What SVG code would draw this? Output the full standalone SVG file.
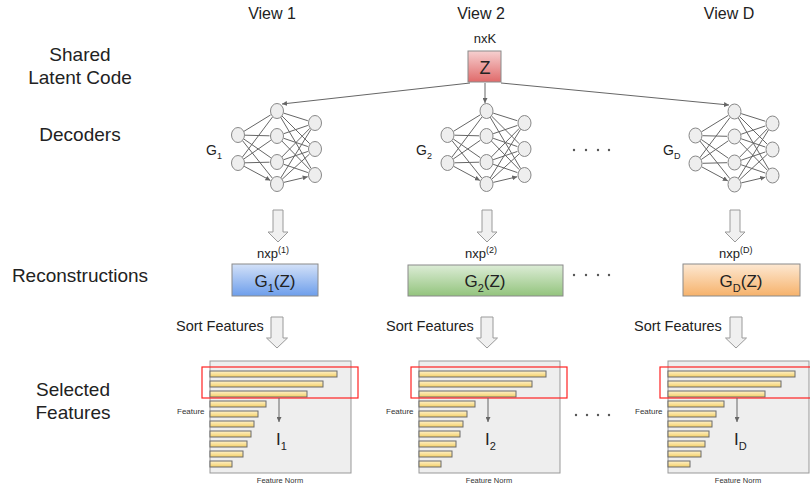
<svg xmlns="http://www.w3.org/2000/svg" xmlns:xlink="http://www.w3.org/1999/xlink" width="810" height="488" viewBox="0 0 810 488">
<style>
text{font-family:"Liberation Sans",Arial,sans-serif;fill:#222}
.lbl{font-size:19px;text-anchor:middle}
.view{font-size:16px;text-anchor:middle}
.nd{fill:#eee;stroke:#888;stroke-width:1}
.e{stroke:#666;stroke-width:1;fill:none;marker-end:url(#ah)}
.blk{fill:#f0f0f0;stroke:#9a9a9a;stroke-width:1}
.bar{fill:url(#gy);stroke:#6b6b6b;stroke-width:1}
.panel{fill:#eee;stroke:#999;stroke-width:1}
.sel{fill:none;stroke:#f22;stroke-width:1.2}
.small{font-size:8px;fill:#333}
.dot{fill:#555}
</style>
<defs>
<marker id="ah" viewBox="0 0 10 10" refX="10" refY="5" markerUnits="userSpaceOnUse" markerWidth="5" markerHeight="5" orient="auto"><path d="M0,0 L10,5 L0,10 z" fill="#666"/></marker>
<linearGradient id="gr" x1="0" y1="0" x2="0" y2="1"><stop offset="0" stop-color="#f6d0d0"/><stop offset="1" stop-color="#e06a6a"/></linearGradient>
<linearGradient id="gb" x1="0" y1="0" x2="0" y2="1"><stop offset="0" stop-color="#d3e1f8"/><stop offset="1" stop-color="#6d9eeb"/></linearGradient>
<linearGradient id="gg" x1="0" y1="0" x2="0" y2="1"><stop offset="0" stop-color="#dcecd6"/><stop offset="1" stop-color="#93c47d"/></linearGradient>
<linearGradient id="go" x1="0" y1="0" x2="0" y2="1"><stop offset="0" stop-color="#fde8d2"/><stop offset="1" stop-color="#f6b26b"/></linearGradient>
<linearGradient id="gy" x1="0" y1="0" x2="0" y2="1"><stop offset="0" stop-color="#fff2cc"/><stop offset="1" stop-color="#f3cf66"/></linearGradient>
<g id="net">
<path class="e" d="M243.96,131.33L270.61,114.93M245,135.2L269.5,135.8M243.76,138.98L270.83,157.73M242.36,140.48L272.33,178.13M242.2,157.4L272.5,117M243.76,159.02L270.83,140.27M245,162.8L269.5,162.2M244.16,166.32L270.4,180.44"/>
<path class="e" d="M283.68,113.11L307.85,120.74M281.95,115.95L309.7,143.7M280.57,117.02L311.17,168.55M283.62,133.73L307.9,125.43M283.62,138.27L307.9,146.57M281.89,141.01L309.77,169.63M281.89,156.98L309.77,128.37M283.62,159.73L307.9,151.43M283.62,164.27L307.9,172.57M280.7,178.06L311.03,129.37M282.15,179.26L309.48,154.08M283.81,182.39L307.7,176.73"/>
<g>
<ellipse class="nd" cx="238" cy="135" rx="6.5" ry="7.5"/><ellipse class="nd" cx="238" cy="163" rx="6.5" ry="7.5"/>
<ellipse class="nd" cx="277" cy="111" rx="6.5" ry="7.5"/><ellipse class="nd" cx="277" cy="136" rx="6.5" ry="7.5"/><ellipse class="nd" cx="277" cy="162" rx="6.5" ry="7.5"/><ellipse class="nd" cx="277" cy="184" rx="6.5" ry="7.5"/>
<ellipse class="nd" cx="315" cy="123" rx="6.5" ry="7.5"/><ellipse class="nd" cx="315" cy="149" rx="6.5" ry="7.5"/><ellipse class="nd" cx="315" cy="175" rx="6.5" ry="7.5"/>
</g>
</g>
<g id="chart">
<rect class="panel" x="210" y="361" width="141" height="112"/>
<rect class="bar" x="210" y="371" width="127" height="6"/>
<rect class="bar" x="210" y="381" width="113" height="6"/>
<rect class="bar" x="210" y="391" width="97" height="6"/>
<rect class="bar" x="210" y="401" width="56" height="6"/>
<rect class="bar" x="210" y="411" width="48" height="6"/>
<rect class="bar" x="210" y="421" width="44" height="6"/>
<rect class="bar" x="210" y="431" width="41" height="6"/>
<rect class="bar" x="210" y="441" width="37" height="6"/>
<rect class="bar" x="210" y="451" width="33" height="6"/>
<rect class="bar" x="210" y="461" width="22" height="6"/>
<rect class="sel" x="202" y="367" width="156" height="31"/>
<path class="e" d="M279,398V422"/>
<text class="small" x="177" y="414">Feature</text>
<text class="small" x="280" y="483" text-anchor="middle" style="font-size:7.5px">Feature Norm</text>
</g>
</defs>

<g id="row-labels">
<text class="lbl" x="80" y="61">Shared</text>
<text class="lbl" x="80" y="84">Latent Code</text>
<text class="lbl" x="80" y="141">Decoders</text>
<text class="lbl" x="80" y="282">Reconstructions</text>
<text class="lbl" x="73" y="396">Selected</text>
<text class="lbl" x="73" y="419">Features</text>
</g>
<g id="view-labels">
<text class="view" x="272" y="19">View 1</text>
<text class="view" x="481" y="19">View 2</text>
<text class="view" x="729" y="19">View D</text>
</g>

<g id="z">
<text x="485" y="43" text-anchor="middle" style="font-size:13px">nxK</text>
<rect x="468" y="51" width="33" height="31" fill="url(#gr)" stroke="#8a8a8a"/>
<text x="485" y="74" text-anchor="middle" style="font-size:18px">Z</text>
</g>

<g id="connectors">
<path class="e" d="M470,83L282,104"/>
<path class="e" d="M485,83V103"/>
<path class="e" d="M501,83L729,105"/>
</g>

<g id="decoder1">
<use xlink:href="#net" href="#net"/>
<text x="206" y="155" style="font-size:14px">G<tspan dy="4" style="font-size:9px">1</tspan></text>
</g>
<g id="decoder2">
<use xlink:href="#net" href="#net" transform="translate(209.5,0)"/>
<text x="416" y="155" style="font-size:14px">G<tspan dy="4" style="font-size:9px">2</tspan></text>
</g>
<g id="decoderD">
<use xlink:href="#net" href="#net" transform="translate(457.5,0.5)"/>
<text x="663" y="155" style="font-size:14px">G<tspan dy="4" style="font-size:9px">D</tspan></text>
</g>

<g id="ellipsis">
<circle class="dot" cx="574" cy="150" r="1.2"/><circle class="dot" cx="586" cy="150" r="1.2"/><circle class="dot" cx="598" cy="150" r="1.2"/><circle class="dot" cx="609" cy="150" r="1.2"/>
<circle class="dot" cx="574" cy="275" r="1.2"/><circle class="dot" cx="586" cy="275" r="1.2"/><circle class="dot" cx="598" cy="275" r="1.2"/><circle class="dot" cx="609" cy="275" r="1.2"/>
<circle class="dot" cx="576" cy="415" r="1.2"/><circle class="dot" cx="587" cy="415" r="1.2"/><circle class="dot" cx="598" cy="415" r="1.2"/><circle class="dot" cx="609" cy="415" r="1.2"/>
</g>

<g id="down-arrows">
<path class="blk" d="M273,210H283V232H288L278,242L268,232H273Z"/>
<path class="blk" d="M482,210H492V232H497L487,242L477,232H482Z"/>
<path class="blk" d="M730,210H740V232H745L735,242L725,232H730Z"/>
<path class="blk" d="M271,317H283V338H287.5L277,348L266.5,338H271Z"/>
<path class="blk" d="M481,317H493V338H497.5L487,348L476.5,338H481Z"/>
<path class="blk" d="M730,317H742V338H746.5L736,348L725.5,338H730Z"/>
</g>

<g id="recon1">
<text x="257" y="258" style="font-size:13px">nxp<tspan dy="-5" style="font-size:9px">(1)</tspan></text>
<rect x="232" y="264" width="86" height="32" fill="url(#gb)" stroke="#8a8a8a"/>
<text x="275" y="287" text-anchor="middle" style="font-size:17px">G<tspan dy="5" style="font-size:11px">1</tspan><tspan dy="-5">(Z)</tspan></text>
</g>
<g id="recon2">
<text x="465" y="258" style="font-size:13px">nxp<tspan dy="-5" style="font-size:9px">(2)</tspan></text>
<rect x="408" y="265" width="155" height="31" fill="url(#gg)" stroke="#8a8a8a"/>
<text x="485" y="287" text-anchor="middle" style="font-size:17px">G<tspan dy="5" style="font-size:11px">2</tspan><tspan dy="-5">(Z)</tspan></text>
</g>
<g id="reconD">
<text x="719" y="258" style="font-size:13px">nxp<tspan dy="-5" style="font-size:9px">(D)</tspan></text>
<rect x="683" y="264" width="117" height="32" fill="url(#go)" stroke="#8a8a8a"/>
<text x="741" y="287" text-anchor="middle" style="font-size:17px">G<tspan dy="5" style="font-size:11px">D</tspan><tspan dy="-5">(Z)</tspan></text>
</g>

<g id="sort-labels">
<text x="176" y="331" style="font-size:14.5px">Sort Features</text>
<text x="386" y="331" style="font-size:14.5px">Sort Features</text>
<text x="634" y="331" style="font-size:14.5px">Sort Features</text>
</g>

<g id="features1">
<use xlink:href="#chart" href="#chart"/>
<text x="276" y="445" style="font-size:17px">I<tspan dy="5" style="font-size:11px">1</tspan></text>
</g>
<g id="features2">
<use xlink:href="#chart" href="#chart" transform="translate(209,0)"/>
<text x="485" y="445" style="font-size:17px">I<tspan dy="5" style="font-size:11px">2</tspan></text>
</g>
<g id="featuresD">
<use xlink:href="#chart" href="#chart" transform="translate(458,0)"/>
<text x="734" y="445" style="font-size:17px">I<tspan dy="5" style="font-size:11px">D</tspan></text>
</g>
</svg>
